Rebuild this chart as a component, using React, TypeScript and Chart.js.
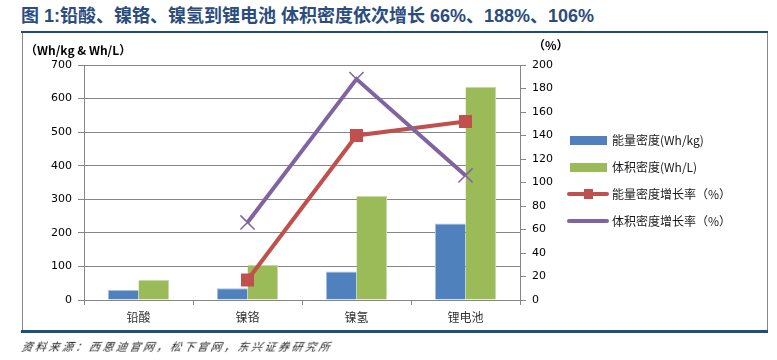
import React, { useEffect, useRef } from "react";
import { Chart, registerables } from "chart.js";

Chart.register(...registerables);

const categories = ["铅酸", "镍铬", "镍氢", "锂电池"];
const energyDensity = [30, 35, 85, 228];
const volumeDensity = [60, 105, 310, 635];
const energyGrowth = [null, 17, 140, 152];
const volumeGrowth = [null, 66, 188, 106];
const leftTicks = [0, 100, 200, 300, 400, 500, 600, 700];
const rightTicks = [0, 20, 40, 60, 80, 100, 120, 140, 160, 180, 200];

const seriesNames = ["能量密度(Wh/kg)", "体积密度(Wh/L)", "能量密度增长率（%）", "体积密度增长率（%）"];
const colors = ["#4F81BD", "#9BBB59", "#C0504D", "#8064A2"];

const tickFont = { family: "'DejaVu Sans', Verdana, sans-serif", size: 11 };

export default function App() {
  const ref = useRef<HTMLCanvasElement | null>(null);

  useEffect(() => {
    if (!ref.current) return;
    const chart = new Chart(ref.current, {
      type: "bar",
      data: {
        labels: categories,
        datasets: [
          {
            type: "line",
            label: seriesNames[3],
            data: volumeGrowth,
            yAxisID: "y1",
            borderColor: colors[3],
            backgroundColor: colors[3],
            borderWidth: 4,
            pointStyle: "crossRot",
            pointRadius: 10,
            pointBorderWidth: 1.5,
            pointBorderColor: colors[3],
            order: 0,
            spanGaps: false,
          } as any,
          {
            type: "line",
            label: seriesNames[2],
            data: energyGrowth,
            yAxisID: "y1",
            borderColor: colors[2],
            backgroundColor: colors[2],
            borderWidth: 4,
            pointStyle: "rect",
            pointRadius: 9.2,
            pointBorderWidth: 0,
            pointBackgroundColor: colors[2],
            order: 1,
          } as any,
          {
            type: "bar",
            label: seriesNames[0],
            data: energyDensity,
            yAxisID: "y",
            backgroundColor: colors[0],
            borderColor: "#A9BFDE",
            borderWidth: { top: 1, left: 1, right: 0, bottom: 0 },
            categoryPercentage: 0.56,
            barPercentage: 1,
            order: 2,
          } as any,
          {
            type: "bar",
            label: seriesNames[1],
            data: volumeDensity,
            yAxisID: "y",
            backgroundColor: colors[1],
            borderColor: "#C8DAA8",
            borderWidth: { top: 1, left: 0, right: 1, bottom: 0 },
            categoryPercentage: 0.56,
            barPercentage: 1,
            order: 2,
          } as any,
        ],
      },
      options: {
        responsive: false,
        animation: false,
        devicePixelRatio: 1,
        layout: { padding: { left: 0, top: 65, right: 217, bottom: 24 } },
        plugins: {
          legend: { display: false },
          tooltip: { enabled: false },
          title: { display: false },
        },
        scales: {
          x: {
            offset: true,
            grid: {
              offset: true,
              drawOnChartArea: false,
              drawTicks: true,
              tickLength: 5,
              color: "#868686",
            },
            border: { display: true, color: "#868686", width: 1 },
            ticks: {
              color: "#333333",
              font: { family: "'Noto Sans CJK SC', sans-serif", size: 12 },
              padding: 5,
            },
            afterFit: (s: any) => {
              s.height = 36;
            },
          },
          y: {
            position: "left",
            min: 0,
            max: 700,
            afterBuildTicks: (s: any) => {
              s.ticks = leftTicks.map((v) => ({ value: v }));
            },
            grid: {
              drawOnChartArea: true,
              drawTicks: true,
              tickLength: 6,
              color: "#868686",
              lineWidth: 1,
            },
            border: { display: true, color: "#868686", width: 1 },
            ticks: { color: "#000000", font: tickFont, padding: 6 },
            afterFit: (s: any) => {
              s.width = 84;
            },
          },
          y1: {
            position: "right",
            min: 0,
            max: 200,
            afterBuildTicks: (s: any) => {
              s.ticks = rightTicks.map((v) => ({ value: v }));
            },
            grid: {
              drawOnChartArea: false,
              drawTicks: true,
              tickLength: 6,
              color: "#868686",
            },
            border: { display: true, color: "#868686", width: 1 },
            ticks: { color: "#000000", font: tickFont, padding: 6 },
            afterFit: (s: any) => {
              s.width = 40;
            },
          },
        },
      },
    });
    return () => chart.destroy();
  }, []);

  const abs: React.CSSProperties = { position: "absolute", margin: 0, whiteSpace: "nowrap" };
  const cjk = "'Noto Sans CJK SC', 'Noto Sans', sans-serif";

  return (
    <div style={{ position: "fixed", left: 0, top: 0, width: 777, height: 360, background: "#ffffff", overflow: "hidden" }}>
      <div
        style={{
          ...abs,
          left: 21,
          top: 4,
          fontFamily: "'Liberation Sans', " + cjk,
          fontWeight: 700,
          fontSize: 18,
          lineHeight: "25px",
          color: "#2B4C7E",
        }}
      >
        图 1:铅酸、镍铬、镍氢到锂电池 体积密度依次增长 66%、188%、106%
      </div>
      <div style={{ ...abs, left: 21, top: 31, width: 747, height: 2, background: "#1F4E79" }} />
      <div style={{ ...abs, left: 22, top: 33, width: 1, height: 298, background: "#888888" }} />
      <div style={{ ...abs, left: 767, top: 33, width: 1, height: 298, background: "#888888" }} />
      <div style={{ ...abs, left: 21, top: 330, width: 747, height: 3, background: "#1F4E79" }} />
      <canvas ref={ref} width={777} height={360} style={{ position: "absolute", left: 0, top: 0, width: 777, height: 360 }} />
      <div style={{ ...abs, left: 25, top: 42, fontFamily: "'Noto Sans CJK SC', sans-serif", fontSize: 12, fontWeight: 700, color: "#000", lineHeight: "16px" }}>
        （Wh/kg &amp; Wh/L）
      </div>
      <div style={{ ...abs, left: 533, top: 37, fontFamily: "'Noto Sans CJK SC', sans-serif", fontSize: 12, fontWeight: 700, color: "#000", lineHeight: "16px" }}>
        （%）
      </div>
      {seriesNames.map((name, i) => (
        <div key={name} style={{ ...abs, left: 567, top: 132 + i * 27, height: 16, display: "flex", alignItems: "center" }}>
          <div style={{ position: "relative", width: 42, height: 16 }}>
            {i < 2 ? (
              <div style={{ position: "absolute", left: 3, top: 4, width: 37, height: 9, background: colors[i] }} />
            ) : (
              <div style={{ position: "absolute", left: 0, top: 6, width: 42, height: 4, background: colors[i], borderRadius: 2 }} />
            )}
            {i === 2 && <div style={{ position: "absolute", left: 17, top: 3, width: 9, height: 10, background: colors[2] }} />}
          </div>
          <span style={{ marginLeft: 3, fontFamily: cjk, fontSize: 12, color: "#1a1a1a", lineHeight: "16px" }}>{name}</span>
        </div>
      ))}
      <div
        style={{
          ...abs,
          left: 22,
          top: 338,
          fontFamily: "'Noto Sans CJK SC', sans-serif",
          fontStyle: "italic",
          fontSize: 11,
          letterSpacing: 2.5,
          color: "#222222",
          lineHeight: "16px",
          transform: "skewX(-12deg)",
        }}
      >
        资料来源：西恩迪官网，松下官网，东兴证券研究所
      </div>
    </div>
  );
}
